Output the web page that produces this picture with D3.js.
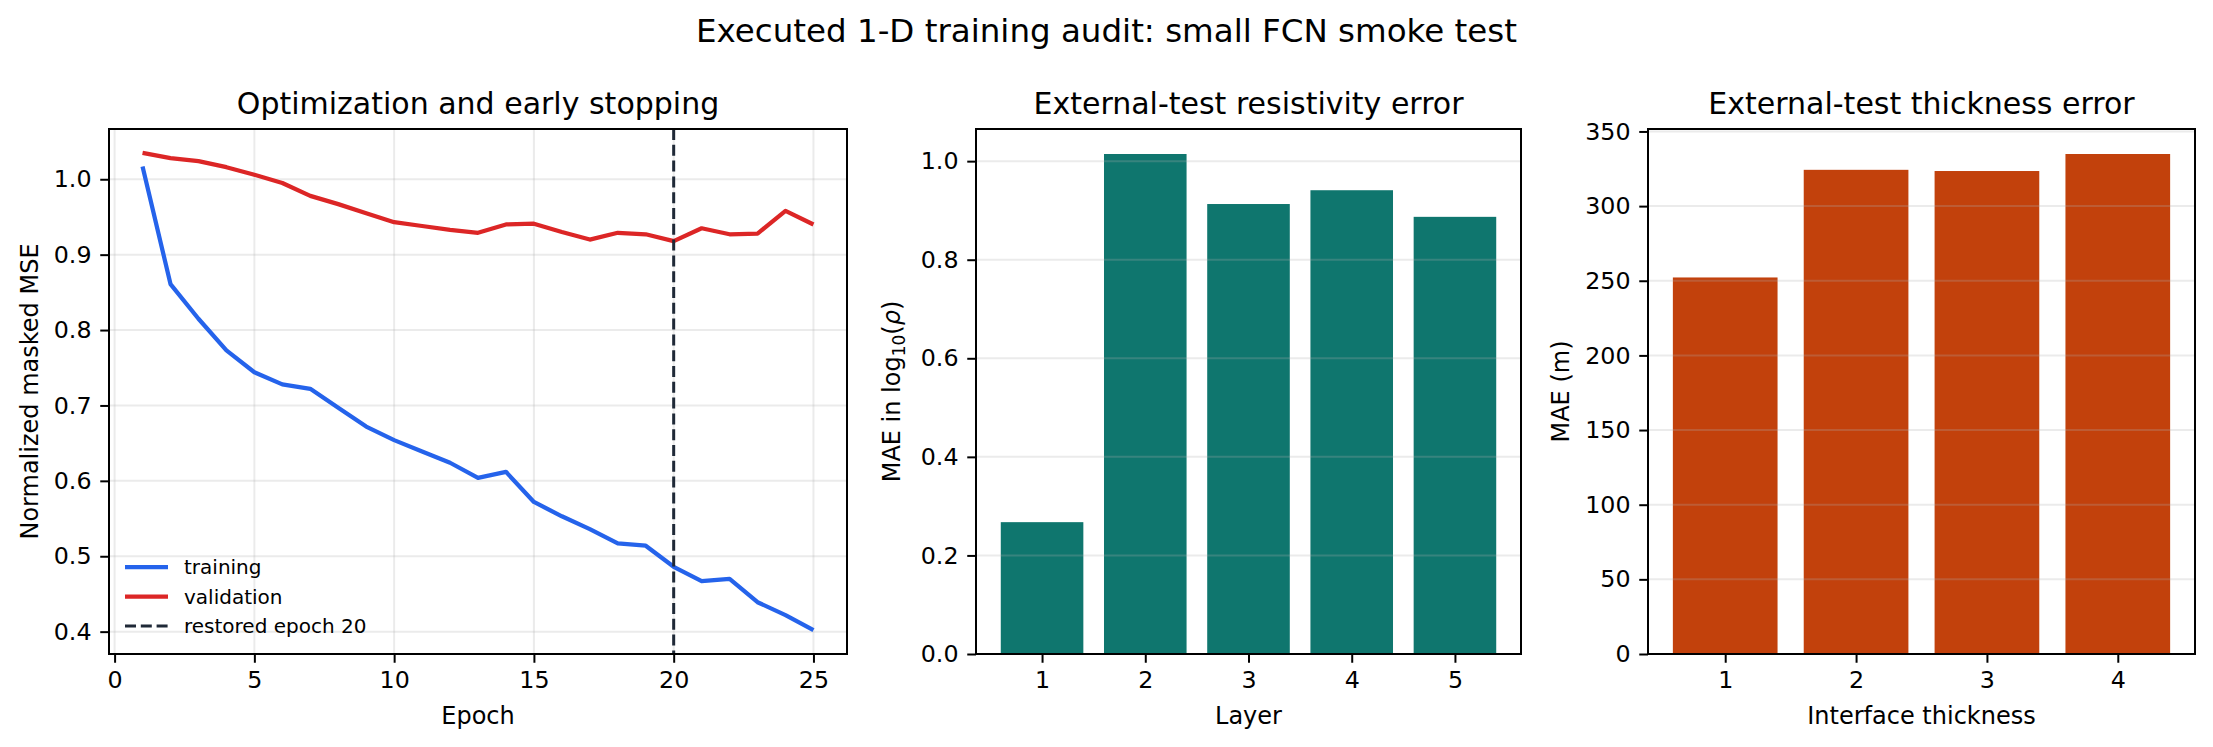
<!DOCTYPE html>
<html lang="en">
<head>
<meta charset="UTF-8" />
<title>Executed 1-D training audit</title>
<script src="https://cdn.jsdelivr.net/npm/d3@7"></script>
<style>
  body { margin: 0; background: #fff; }
  svg { display: block; font-family: "DejaVu Sans", sans-serif; }
</style>
</head>
<body>
<svg id="chart"></svg>
<script>
// data
const epochs = [1, 2, 3, 4, 5, 6, 7, 8, 9, 10, 11, 12, 13, 14, 15, 16, 17, 18, 19, 20, 21, 22, 23, 24, 25];
const trainLoss = [1.017, 0.861, 0.815, 0.773, 0.744, 0.728, 0.722, 0.697, 0.672, 0.654,
                   0.639, 0.624, 0.604, 0.612, 0.572, 0.553, 0.536, 0.517, 0.514, 0.486,
                   0.467, 0.470, 0.439, 0.422, 0.402];
const valLoss = [1.035, 1.028, 1.024, 1.016, 1.006, 0.995, 0.978, 0.967, 0.955, 0.943,
                 0.938, 0.933, 0.929, 0.940, 0.941, 0.930, 0.920, 0.929, 0.927, 0.918,
                 0.935, 0.927, 0.928, 0.958, 0.940];
const restoredEpoch = 20;
const epochTicks = [0, 5, 10, 15, 20, 25];
const lossTicks = [0.4, 0.5, 0.6, 0.7, 0.8, 0.9, 1.0];

const layers = ["1", "2", "3", "4", "5"];
const resistivityMAE = [0.2675, 1.0145, 0.913, 0.941, 0.887];
const resTicks = [0.0, 0.2, 0.4, 0.6, 0.8, 1.0];

const interfaces = ["1", "2", "3", "4"];
const thicknessMAE = [252.2, 324.3, 323.5, 334.9];
const thickTicks = [0, 50, 100, 150, 200, 250, 300, 350];

const W = 2213, H = 747;
const plotTop = 129, plotBottom = 654;
const tickFont = 23.75, labelFont = 24, titleFont = 30;
const curveWidth = 4.25, dashWidth = 3, dashPattern = "11,4.8";

const svg = d3.select("#chart").attr("width", W).attr("height", H);
svg.append("rect").attr("width", W).attr("height", H).attr("fill", "#fff");

svg.append("text")
  .attr("x", W / 2).attr("y", 42)
  .attr("text-anchor", "middle")
  .attr("font-size", 32.5)
  .text("Executed 1-D training audit: small FCN smoke test");

// shared bits for each panel
function styleAxis(g) {
  g.select(".domain").remove();
  g.selectAll(".tick line").attr("stroke", "#000").attr("stroke-width", 2);
  g.selectAll(".tick text").attr("font-size", tickFont).attr("fill", "#000")
    .attr("font-family", "DejaVu Sans");
}

function panel(left, right, title, xlabel, ylabelX) {
  const g = svg.append("g");
  g.append("text")
    .attr("x", (left + right) / 2).attr("y", plotTop - 15)
    .attr("text-anchor", "middle").attr("font-size", titleFont)
    .text(title);
  g.append("text")
    .attr("x", (left + right) / 2).attr("y", 724)
    .attr("text-anchor", "middle").attr("font-size", labelFont)
    .text(xlabel);
  const ylab = g.append("text")
    .attr("transform", `translate(${ylabelX},${(plotTop + plotBottom) / 2}) rotate(-90)`)
    .attr("text-anchor", "middle").attr("font-size", labelFont);
  return { g, ylab };
}

function frame(g, left, right) {
  g.append("rect")
    .attr("x", left).attr("y", plotTop)
    .attr("width", right - left).attr("height", plotBottom - plotTop)
    .attr("fill", "none").attr("stroke", "#000").attr("stroke-width", 2);
}

// ---- panel 1: loss curves ----
{
  const left = 109, right = 847;
  const p = panel(left, right, "Optimization and early stopping", "Epoch", 38);
  p.ylab.text("Normalized masked MSE");

  const xPad = 0.05 * (d3.max(epochs) - d3.min(epochs));
  const x = d3.scaleLinear()
    .domain([d3.min(epochs) - xPad, d3.max(epochs) + xPad])
    .range([left, right]);
  const lo = d3.min(trainLoss.concat(valLoss)), hi = d3.max(trainLoss.concat(valLoss));
  const yPad = 0.05 * (hi - lo);
  const y = d3.scaleLinear().domain([lo - yPad, hi + yPad]).range([plotBottom, plotTop]);

  // grid
  p.g.append("g").selectAll("line").data(epochTicks).join("line")
    .attr("x1", d => x(d)).attr("x2", d => x(d))
    .attr("y1", plotTop).attr("y2", plotBottom)
    .attr("stroke", "#b0b0b0").attr("stroke-opacity", 0.25).attr("stroke-width", 2);
  p.g.append("g").selectAll("line").data(lossTicks).join("line")
    .attr("x1", left).attr("x2", right)
    .attr("y1", d => y(d)).attr("y2", d => y(d))
    .attr("stroke", "#b0b0b0").attr("stroke-opacity", 0.25).attr("stroke-width", 2);

  const line = d3.line().x((d, i) => x(epochs[i])).y(d => y(d));
  p.g.append("path").datum(trainLoss).attr("d", line)
    .attr("fill", "none").attr("stroke", "#2563eb").attr("stroke-width", curveWidth)
    .attr("stroke-linejoin", "round");
  p.g.append("path").datum(valLoss).attr("d", line)
    .attr("fill", "none").attr("stroke", "#dc2626").attr("stroke-width", curveWidth)
    .attr("stroke-linejoin", "round");
  p.g.append("line")
    .attr("x1", x(restoredEpoch)).attr("x2", x(restoredEpoch))
    .attr("y1", plotTop).attr("y2", plotBottom)
    .attr("stroke", "#1f2937").attr("stroke-width", dashWidth)
    .attr("stroke-dasharray", dashPattern);

  p.g.append("g").attr("transform", `translate(0,${plotBottom})`)
    .call(d3.axisBottom(x).tickValues(epochTicks).tickSize(8.75).tickPadding(8.75).tickFormat(d3.format("d")))
    .call(styleAxis);
  p.g.append("g").attr("transform", `translate(${left},0)`)
    .call(d3.axisLeft(y).tickValues(lossTicks).tickSize(8.75).tickPadding(8.75).tickFormat(d3.format(".1f")))
    .call(styleAxis);
  frame(p.g, left, right);

  // legend
  const items = [
    { label: "training", color: "#2563eb", w: curveWidth, dash: null },
    { label: "validation", color: "#dc2626", w: curveWidth, dash: null },
    { label: "restored epoch " + restoredEpoch, color: "#1f2937", w: dashWidth, dash: dashPattern }
  ];
  const leg = p.g.append("g").selectAll("g").data(items).join("g")
    .attr("transform", (d, i) => `translate(${left + 16},${567 + i * 29.5})`);
  leg.append("line").attr("x1", 0).attr("x2", 43)
    .attr("stroke", d => d.color).attr("stroke-width", d => d.w)
    .attr("stroke-dasharray", d => d.dash);
  leg.append("text").attr("x", 59).attr("dy", "0.35em")
    .attr("font-size", 20).text(d => d.label);
}

// ---- bar panels ----
function barPanel(left, right, cats, vals, ticks, color, title, xlabel, ylabelX, fmt) {
  const p = panel(left, right, title, xlabel, ylabelX);
  const x = d3.scaleLinear()
    .domain([0.6 - 0.05 * (cats.length - 0.2), cats.length + 0.4 + 0.05 * (cats.length - 0.2)])
    .range([left, right]);
  const y = d3.scaleLinear().domain([0, d3.max(vals) * 1.05]).range([plotBottom, plotTop]);

  p.g.append("g").selectAll("rect").data(vals).join("rect")
    .attr("x", (d, i) => x(i + 1 - 0.4))
    .attr("width", x(1.4) - x(0.6))
    .attr("y", d => y(d))
    .attr("height", d => y(0) - y(d))
    .attr("fill", color);

  p.g.append("g").selectAll("line").data(ticks).join("line")
    .attr("x1", left).attr("x2", right)
    .attr("y1", d => y(d)).attr("y2", d => y(d))
    .attr("stroke", "#b0b0b0").attr("stroke-opacity", 0.25).attr("stroke-width", 2);

  p.g.append("g").attr("transform", `translate(0,${plotBottom})`)
    .call(d3.axisBottom(x).tickValues(cats.map((c, i) => i + 1)).tickSize(8.75).tickPadding(8.75)
      .tickFormat((d, i) => cats[i]))
    .call(styleAxis);
  p.g.append("g").attr("transform", `translate(${left},0)`)
    .call(d3.axisLeft(y).tickValues(ticks).tickSize(8.75).tickPadding(8.75).tickFormat(fmt))
    .call(styleAxis);
  frame(p.g, left, right);
  return p;
}

const p2 = barPanel(976, 1521, layers, resistivityMAE, resTicks, "#0f766e",
  "External-test resistivity error", "Layer", 900, d3.format(".1f"));
p2.ylab.append("tspan").text("MAE in log");
p2.ylab.append("tspan").attr("font-size", 17).attr("dy", 5).text("10");
p2.ylab.append("tspan").attr("dy", -5).text("(");
p2.ylab.append("tspan").attr("font-style", "italic").text("ρ");
p2.ylab.append("tspan").text(")");

const p3 = barPanel(1648, 2195, interfaces, thicknessMAE, thickTicks, "#c2410c",
  "External-test thickness error", "Interface thickness", 1569, d3.format("d"));
p3.ylab.text("MAE (m)");
</script>
</body>
</html>
